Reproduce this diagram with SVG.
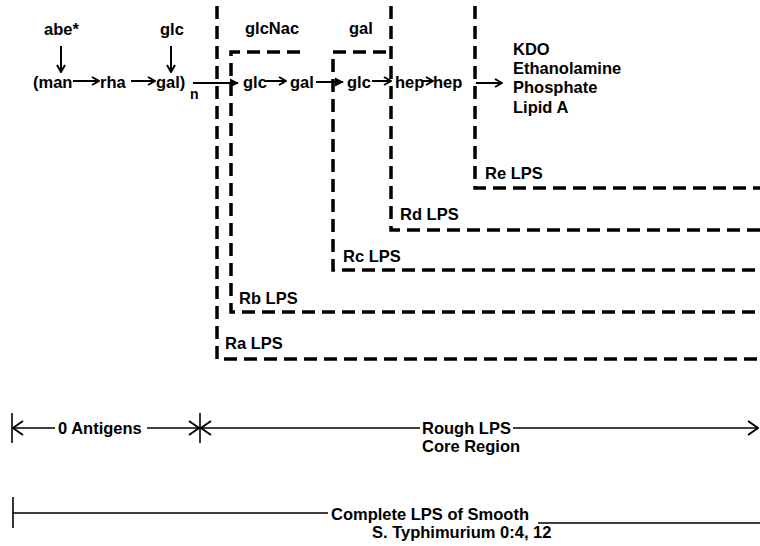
<svg xmlns="http://www.w3.org/2000/svg" width="760" height="546" viewBox="0 0 760 546">
<style>
text{font-family:"Liberation Sans",Arial,sans-serif;font-weight:bold;fill:#000}
.c{font-size:16.5px}
.l{font-size:16.5px}
.d{fill:none;stroke:#000;stroke-width:3.5;stroke-dasharray:13 7}
.a{fill:none;stroke:#000;stroke-width:2}
.t{fill:none;stroke:#000;stroke-width:1.6}
</style>
<defs>
<marker id="ch" viewBox="0 0 10 10" refX="9" refY="5" markerWidth="10" markerHeight="10" markerUnits="userSpaceOnUse" orient="auto">
<path d="M2,1 L9,5 L2,9" fill="none" stroke="#000" stroke-width="2"/>
</marker>
<marker id="tri" viewBox="0 0 10 10" refX="9" refY="5" markerWidth="9" markerHeight="10" markerUnits="userSpaceOnUse" orient="auto">
<path d="M0,0 L10,5 L0,10 Z" fill="#000"/>
</marker>
<marker id="ch2" viewBox="0 0 12 16" refX="11" refY="8" markerWidth="12" markerHeight="16" markerUnits="userSpaceOnUse" orient="auto">
<path d="M1,1 L11,8 L1,15" fill="none" stroke="#000" stroke-width="1.8"/>
</marker>
</defs>

<g id="connectors">
<path class="d" d="M217,6 V359 H760"/>
<path class="d" d="M300,52 H231 V312 H760"/>
<path class="d" d="M386,52 H333 V270 H760"/>
<path class="d" d="M391,6 V230 H760"/>
<path class="d" d="M475,6 V188 H760"/>
<line class="a" x1="61" y1="46" x2="61" y2="72" marker-end="url(#ch)"/>
<line class="a" x1="171" y1="46" x2="171" y2="72" marker-end="url(#ch)"/>
<line class="a" x1="73" y1="81" x2="99" y2="81" marker-end="url(#ch)"/>
<line class="a" x1="131" y1="81" x2="155" y2="81" marker-end="url(#ch)"/>
<line class="a" x1="193" y1="83" x2="238" y2="83" marker-end="url(#tri)"/>
<line class="a" x1="266" y1="81" x2="286" y2="81" marker-end="url(#ch)"/>
<line class="a" x1="316" y1="82" x2="343" y2="82" marker-end="url(#tri)"/>
<line class="a" x1="372" y1="81" x2="391" y2="81" marker-end="url(#ch)"/>
<line class="a" x1="422" y1="81" x2="433" y2="81" marker-end="url(#ch)"/>
<line class="a" x1="476" y1="83" x2="502" y2="83" marker-end="url(#ch)"/>
<line class="t" x1="12" y1="413" x2="12" y2="443"/>
<line class="t" x1="55" y1="428" x2="13" y2="428" marker-end="url(#ch2)"/>
<line class="t" x1="147" y1="428" x2="199" y2="428" marker-end="url(#ch2)"/>
<line class="t" x1="200" y1="413" x2="200" y2="443"/>
<line class="t" x1="420" y1="428" x2="201" y2="428" marker-end="url(#ch2)"/>
<line class="t" x1="513" y1="428" x2="758" y2="428" marker-end="url(#ch2)"/>
<line class="t" x1="13" y1="497" x2="13" y2="528"/>
<line class="t" x1="13" y1="513" x2="328" y2="513"/>
<line class="t" x1="538" y1="523" x2="760" y2="523"/>
</g>

<g id="chain">
<text class="c" x="44" y="35">abe*</text>
<text class="c" x="160" y="35">glc</text>
<text class="c" x="245" y="34">glcNac</text>
<text class="c" x="349" y="34">gal</text>
<text class="c" x="33" y="88">(man</text>
<text class="c" x="100" y="88">rha</text>
<text class="c" x="156" y="88">gal)</text>
<text x="190" y="99" style="font-size:14px">n</text>
<text class="c" x="243" y="88">glc</text>
<text class="c" x="290" y="88">gal</text>
<text class="c" x="347" y="88">glc</text>
<text class="c" x="395" y="88">hep</text>
<text class="c" x="433" y="88">hep</text>
</g>

<g id="lipid">
<text class="l" x="513" y="55">KDO</text>
<text class="l" x="513" y="74">Ethanolamine</text>
<text class="l" x="513" y="93">Phosphate</text>
<text class="l" x="513" y="113">Lipid A</text>
</g>

<g id="re"><text class="l" x="485" y="179">Re LPS</text></g>
<g id="rd"><text class="l" x="400" y="220">Rd LPS</text></g>
<g id="rc"><text class="l" x="343" y="262">Rc LPS</text></g>
<g id="rb"><text class="l" x="239" y="304">Rb LPS</text></g>
<g id="ra"><text class="l" x="225" y="349">Ra LPS</text></g>

<g id="o-antigens"><text class="l" x="58" y="434">0 Antigens</text></g>
<g id="rough"><text class="l" x="422" y="434">Rough LPS</text><text class="l" x="422" y="452">Core Region</text></g>
<g id="complete"><text class="l" x="331" y="520">Complete LPS of Smooth</text><text class="l" x="372" y="538">S. Typhimurium 0:4, 12</text></g>
</svg>
